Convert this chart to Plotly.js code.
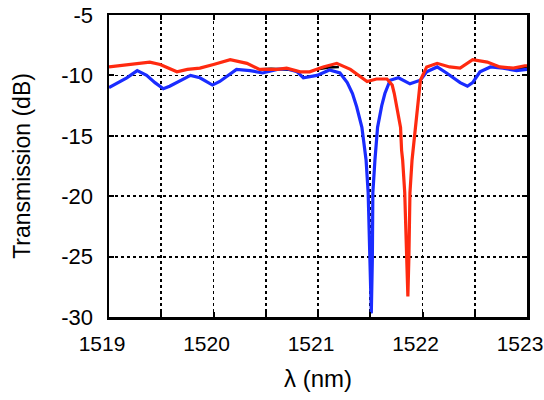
<!DOCTYPE html>
<html>
<head>
<meta charset="utf-8">
<script src="https://cdn.plot.ly/plotly-3.0.1.min.js"></script>
<style>html,body{margin:0;padding:0;background:#fff;}#chart{width:544px;height:400px;}</style>
</head>
<body>
<div id="chart"></div>
<script>
// Red trace (wavelength nm, transmission dB)
const redX = [1519.00,1519.105,1519.25,1519.39,1519.49,1519.58,1519.65,1519.75,1519.87,1520.00,1520.08,1520.16,1520.32,1520.44,1520.61,1520.70,1520.83,1520.92,1521.05,1521.18,1521.31,1521.40,1521.47,1521.56,1521.66,1521.71,1521.73,1521.76,1521.79,1521.80,1521.81,1521.83,1521.845,1521.86,1521.87,1521.88,1521.90,1521.93,1521.95,1521.965,1521.98,1522.04,1522.14,1522.26,1522.36,1522.48,1522.62,1522.74,1522.87,1522.98,1523.00];
const redY = [-9.3,-9.2,-9.0,-8.9,-9.1,-9.4,-9.7,-9.5,-9.4,-9.1,-8.9,-8.7,-9.0,-9.5,-9.5,-9.4,-9.7,-9.7,-9.3,-9.0,-9.5,-10.1,-10.5,-10.3,-10.3,-10.8,-11.5,-12.9,-14.3,-16.2,-17.0,-19.7,-24.0,-28.3,-25.0,-19.7,-17.0,-14.3,-12.5,-11.5,-10.4,-9.3,-9.0,-9.3,-9.4,-8.7,-8.9,-9.3,-9.4,-9.2,-9.2];

// Blue trace
const blueX = [1519.00,1519.09,1519.17,1519.27,1519.36,1519.44,1519.52,1519.58,1519.65,1519.78,1519.87,1519.99,1520.06,1520.22,1520.35,1520.47,1520.61,1520.70,1520.80,1520.86,1520.99,1521.11,1521.21,1521.28,1521.33,1521.37,1521.42,1521.46,1521.48,1521.50,1521.51,1521.52,1521.525,1521.545,1521.57,1521.61,1521.64,1521.69,1521.77,1521.88,1521.98,1522.04,1522.14,1522.23,1522.36,1522.43,1522.48,1522.55,1522.65,1522.77,1522.90,1523.00];
const blueY = [-11.0,-10.6,-10.2,-9.6,-10.0,-10.6,-11.1,-10.9,-10.6,-10.0,-10.2,-10.8,-10.5,-9.5,-9.6,-9.8,-9.5,-9.45,-9.7,-10.2,-10.0,-9.55,-9.8,-10.6,-11.5,-12.6,-14.3,-17.0,-19.7,-25.3,-29.7,-25.3,-19.7,-17.0,-14.3,-12.5,-11.5,-10.4,-10.2,-10.7,-10.4,-9.7,-9.3,-9.8,-10.6,-10.9,-10.6,-9.7,-9.3,-9.4,-9.6,-9.5];

// Black trace (partly visible segments)
const blackX = [1520.45,1520.55,1520.65,1520.75,null,1521.0,1521.1,1521.2,null,1522.72,1522.85,1523.0];
const blackY = [-9.5,-9.45,-9.5,-9.55,null,-9.5,-9.35,-9.3,null,-9.3,-9.45,-9.35];

const xTickVals = [1519,1519.5,1520,1520.5,1521,1521.5,1522,1522.5,1523];
const xTickText = ['1519','','1520','','1521','','1522','','1523'];
const yTickVals = [-30,-25,-20,-15,-10,-5];
const yTickText = ['-30','-25','-20','-15','-10','-5'];

const font = {family: 'Liberation Sans, Arial, Helvetica, sans-serif', color: '#000'};

const traces = [
  {x: blackX, y: blackY, mode: 'lines', line: {color: '#000', width: 2.5}, connectgaps: false, hoverinfo: 'skip'},
  {x: blueX, y: blueY, mode: 'lines', line: {color: '#1a2cff', width: 3.2}},
  {x: redX, y: redY, mode: 'lines', line: {color: '#ff2a10', width: 3.2}}
];

const layout = {
  width: 544, height: 400,
  margin: {l: 109, r: 17, t: 15, b: 83},
  paper_bgcolor: '#fff', plot_bgcolor: '#fff',
  showlegend: false,
  font: Object.assign({size: 22}, font),
  xaxis: {
    range: [1519, 1523], automargin: false,
    tickvals: xTickVals, ticktext: xTickText,
    ticks: 'inside', ticklen: 5, tickwidth: 2, tickcolor: '#000',
    ticklabeloverflow: 'allow', ticklabelstandoff: 6, ticklabelshift: -7,
    showline: true, linecolor: '#000', linewidth: 2.5, mirror: 'ticks',
    showgrid: true, gridcolor: '#000', gridwidth: 1.8, griddash: 'dot',
    zeroline: false,
    tickfont: Object.assign({size: 21}, font),
    title: {text: 'λ (nm)', font: Object.assign({size: 24}, font), standoff: 17}
  },
  yaxis: {
    range: [-30, -5], automargin: false,
    tickvals: yTickVals, ticktext: yTickText,
    ticks: 'inside', ticklen: 5, tickwidth: 2, tickcolor: '#000',
    ticklabeloverflow: 'allow', ticklabelstandoff: 9,
    showline: true, linecolor: '#000', linewidth: 2.5, mirror: 'ticks',
    showgrid: true, gridcolor: '#000', gridwidth: 1.8, griddash: 'dot',
    zeroline: false,
    tickfont: Object.assign({size: 22}, font),
    title: {text: 'Transmission (dB)', font: Object.assign({size: 23}, font), standoff: 25}
  }
};

Plotly.newPlot('chart', traces, layout, {displayModeBar: false, staticPlot: true});
</script>
</body>
</html>
